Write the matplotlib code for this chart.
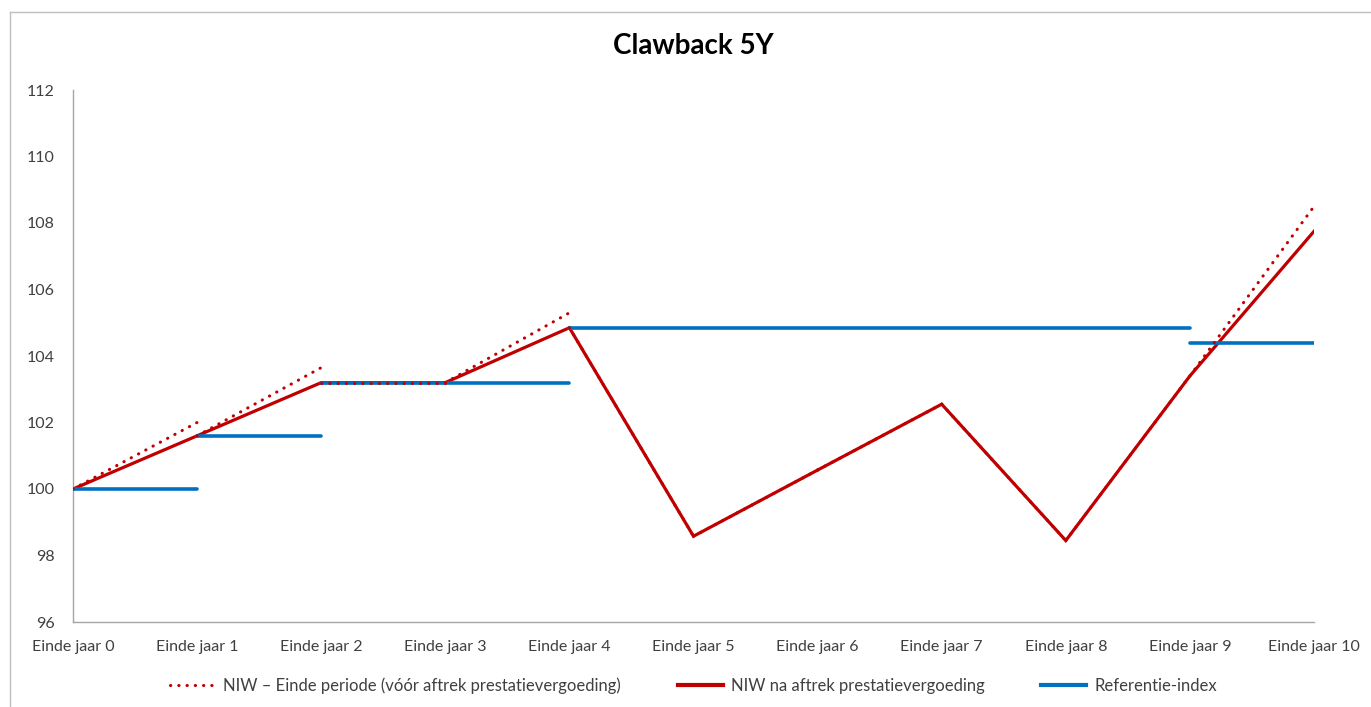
import matplotlib
matplotlib.use("Agg")
import matplotlib.pyplot as plt
from matplotlib.lines import Line2D

plt.rcParams['font.family'] = ['Lato', 'DejaVu Sans']

# data
years = ["Einde jaar {}".format(i) for i in range(11)]
niw_na = [100, 101.6, 103.2, 103.2, 104.85, 98.58, 100.57, 102.55, 98.45, 103.4, 107.75]
# NIW at period end before fee (start of each period = niw_na of previous year)
niw_voor = [100, 102.0, 103.65, 103.2, 105.3, 98.58, 100.57, 102.55, 98.45, 103.4, 108.5]
# reference index per period (jaar i -> jaar i+1)
ref_index = [100, 101.6, 103.2, 103.2, 104.85, 104.85, 104.85, 104.85, 104.85, 104.4]

red = "#C00000"
blue = "#0070C0"

fig = plt.figure(figsize=(13.71, 7.07), dpi=100)
ax = fig.add_axes([73 / 1371, 85 / 707, (1314 - 73) / 1371, (622 - 90) / 707])

x = list(range(len(years)))
ax.plot(x, niw_na, color=red, lw=2.3, zorder=2, solid_joinstyle="miter")

# join periods with the same index level into one segment
start = 0
for i in range(1, len(ref_index) + 1):
    if i == len(ref_index) or ref_index[i] != ref_index[start]:
        v = ref_index[start]
        ax.plot([start, i], [v, v], color=blue, lw=2.6, zorder=3, solid_capstyle="round")
        start = i

for i in range(len(years) - 1):
    ax.plot([i, i + 1], [niw_na[i], niw_voor[i + 1]], color=red, lw=2.2,
            linestyle=(0, (0.1, 2.6)), dash_capstyle="round", zorder=4)

ax.set_xlim(0, 10)
ax.set_ylim(96, 112)
ax.set_yticks(range(96, 113, 2))
ax.set_xticks(x)
ax.set_xticklabels(years)
ax.tick_params(length=0, labelsize=11.5, colors="#404040")
ax.tick_params(axis="y", pad=13)
ax.tick_params(axis="x", pad=13)
for s in ["top", "right"]:
    ax.spines[s].set_visible(False)
for s in ["left", "bottom"]:
    ax.spines[s].set_color("#A6A6A6")
    ax.spines[s].set_linewidth(1)

fig.text(0.506, 0.935, "Clawback 5Y", ha="center", va="center",
         fontsize=20, fontweight="bold", color="black")

handles = [
    Line2D([], [], color=red, lw=2.2, linestyle=(0, (0.1, 2.6)), dash_capstyle="round"),
    Line2D([], [], color=red, lw=3),
    Line2D([], [], color=blue, lw=3),
]
labels = ["NIW \u2013 Einde periode (v\u00f3\u00f3r aftrek prestatievergoeding)",
          "NIW na aftrek prestatievergoeding",
          "Referentie-index"]
fig.legend(handles, labels, loc="center", bbox_to_anchor=(0.506, 0.03), ncol=3,
           frameon=False, fontsize=12, handlelength=2.7, handletextpad=0.5,
           columnspacing=3.4, labelcolor="#404040")

# outer chart border
fig.add_artist(Line2D([10 / 1371, 10 / 1371], [0, 1 - 12 / 707], color="#BFBFBF", lw=1))
fig.add_artist(Line2D([10 / 1371, 1], [1 - 12 / 707, 1 - 12 / 707], color="#BFBFBF", lw=1))

fig.savefig("out.png", dpi=100)
